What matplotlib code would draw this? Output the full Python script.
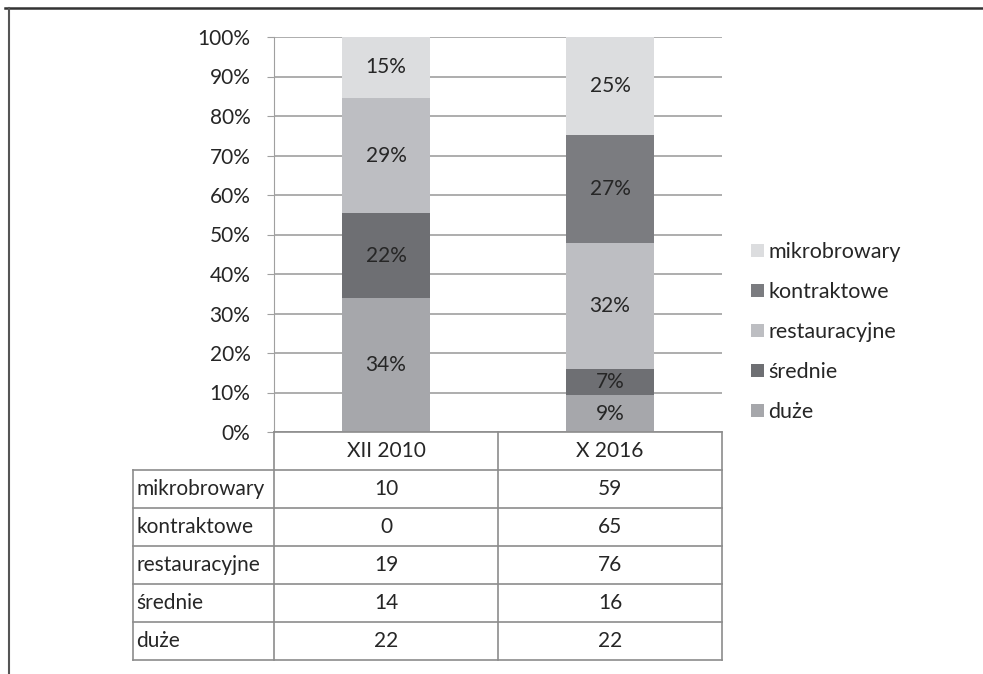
import matplotlib
matplotlib.use("Agg")
import matplotlib.pyplot as plt
from matplotlib.lines import Line2D
from matplotlib.patches import Patch

plt.rcParams['font.family'] = ['Lato', 'DejaVu Sans']

periods = ["XII 2010", "X 2016"]
# stacking order bottom -> top
series = ["duże", "średnie", "restauracyjne", "kontraktowe", "mikrobrowary"]
counts = {
    "duże": [22, 22],
    "średnie": [14, 16],
    "restauracyjne": [19, 76],
    "kontraktowe": [0, 65],
    "mikrobrowary": [10, 59],
}
colors = {
    "duże": "#A6A7AB",
    "średnie": "#6E6F73",
    "restauracyjne": "#BDBEC2",
    "kontraktowe": "#7B7C80",
    "mikrobrowary": "#DCDDDF",
}
table_order = ["mikrobrowary", "kontraktowe", "restauracyjne", "średnie", "duże"]
yticks = [0, 10, 20, 30, 40, 50, 60, 70, 80, 90, 100]

FS = 15
W, H = 983, 674
fig = plt.figure(figsize=(W / 100, H / 100), dpi=100)

def fx(px):
    return px / W

def fy(py):
    return 1 - py / H

# outer frame lines
fig.add_artist(Line2D([fx(5), fx(983)], [fy(8), fy(8)], color="#333333", lw=1.8))
fig.add_artist(Line2D([fx(9), fx(9)], [fy(8), fy(674)], color="#555555", lw=1.5))

x0, x1, ytop, ybot = 274, 722, 37, 432
ax = fig.add_axes([fx(x0), fy(ybot), fx(x1 - x0), (ybot - ytop) / H])

totals = [sum(counts[s][i] for s in series) for i in range(len(periods))]
pos = [0, 1]
bottoms = [0.0, 0.0]
gridc = "#A0A0A0"
for s in series:
    vals = [100.0 * counts[s][i] / totals[i] for i in range(len(periods))]
    ax.bar(pos, vals, bottom=bottoms, width=0.39, color=colors[s], zorder=3, label=s)
    for i, v in enumerate(vals):
        if v > 0:
            ax.text(pos[i], bottoms[i] + v / 2, f"{round(v):.0f}%", ha="center", va="center",
                    fontsize=FS, color="#262626", zorder=4)
    bottoms = [bottoms[i] + vals[i] for i in range(len(periods))]

ax.set_xlim(-0.5, 1.5)
ax.set_ylim(0, 100)
ax.set_yticks(yticks)
ax.set_yticklabels([f"{t}%" for t in yticks], fontsize=FS, color="#262626")
ax.set_xticks([])
ax.yaxis.grid(True, color=gridc, lw=1.2, zorder=0)
for sp in ["top", "right", "bottom"]:
    ax.spines[sp].set_visible(False)
ax.spines["left"].set_color(gridc)
ax.tick_params(axis="y", color=gridc, length=5, pad=12)

# legend
handles = [Patch(facecolor=colors[s], edgecolor="none") for s in table_order]
fig.legend(handles, table_order, loc="center left", bbox_to_anchor=(fx(751), fy(332)),
           frameon=False, fontsize=FS + 0.5, handlelength=0.6, handleheight=0.6,
           handletextpad=0.2, labelspacing=0.93, labelcolor="#262626",
           borderaxespad=0, borderpad=0)

# data table
tx0, tmid, ty0 = 133, 498, 432
rowh = 38
tab = fig.add_axes([0, 0, 1, 1], facecolor="none")
tab.set_xlim(0, W)
tab.set_ylim(H, 0)
tab.axis("off")
lc = "#8C8C8C"
nrows = len(table_order)
ybottom = ty0 + rowh * (nrows + 1)
# horizontal lines
tab.plot([x0, x1], [ty0, ty0], color=lc, lw=1.2)
for r in range(1, nrows + 2):
    y = ty0 + rowh * r
    tab.plot([tx0, x1], [y, y], color=lc, lw=1.2)
# vertical lines
tab.plot([tx0, tx0], [ty0 + rowh, ybottom], color=lc, lw=1.2)
for xv in [x0, tmid, x1]:
    tab.plot([xv, xv], [ty0, ybottom], color=lc, lw=1.2)
# header
centers = [(x0 + tmid) / 2, (tmid + x1) / 2]
for i, p in enumerate(periods):
    tab.text(centers[i], ty0 + rowh / 2, p, ha="center", va="center", fontsize=FS, color="#262626")
for r, s in enumerate(table_order):
    yc = ty0 + rowh * (r + 1) + rowh / 2
    tab.text(tx0 + 3, yc, s, ha="left", va="center", fontsize=FS, color="#262626")
    for i in range(len(periods)):
        tab.text(centers[i], yc, str(counts[s][i]), ha="center", va="center", fontsize=FS, color="#262626")

fig.savefig("out.png", dpi=100)
